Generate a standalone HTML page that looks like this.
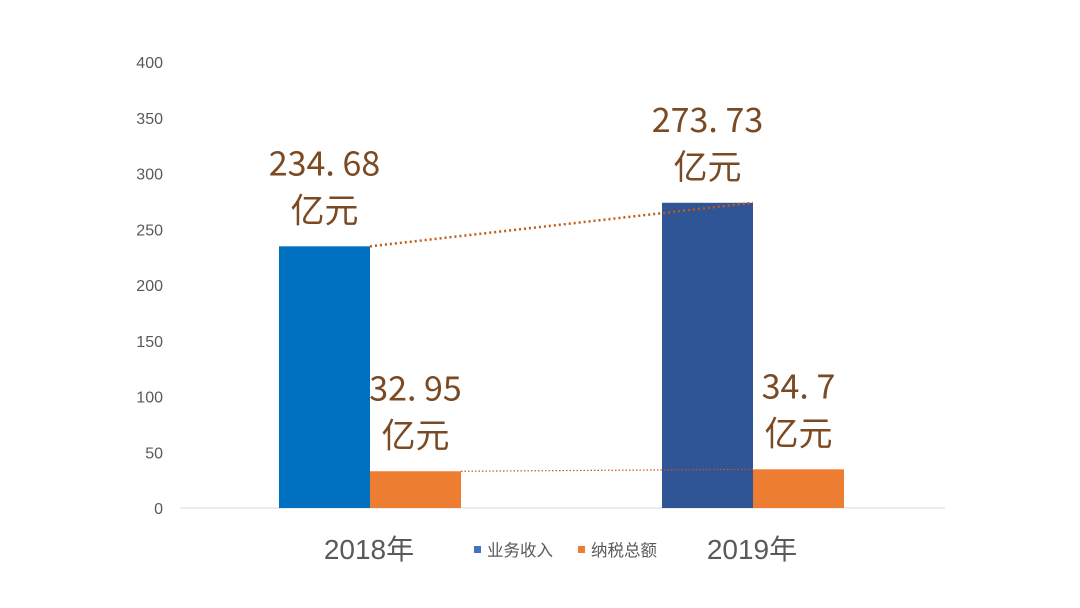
<!DOCTYPE html>
<html><head><meta charset="utf-8"><style>
body{margin:0;background:#fff;}
svg{display:block;}
</style></head><body>
<svg id="c" width="1080" height="608" xmlns="http://www.w3.org/2000/svg"></svg>
<script>
const categories=["2018年","2019年"];
const revenue=[234.68,273.73];
const tax=[32.95,34.7];
const revenueLabels=["234. 68","273. 73"];
const taxLabels=["32. 95","34. 7"];
const ticks=[0,50,100,150,200,250,300,350,400];
const revColors=["#0070c0","#2f5597"];
const NS="http://www.w3.org/2000/svg";
const svg=document.getElementById('c');
const y0=508,y1=62,yMax=400;
const y=v=>y0-(v/yMax)*(y0-y1);
const catCenter=i=>370+i*383;
const bw=91;
function mk(t,a,p){const e=document.createElementNS(NS,t);for(const k in a)e.setAttribute(k,a[k]);(p||svg).appendChild(e);return e;}
ticks.forEach(t=>{
  const e=mk('text',{x:163,y:y(t)+6,'text-anchor':'end','font-size':16,fill:'#595959','font-family':'Liberation Sans, sans-serif'});
  
  
  e.textContent=t;
});
const ax=mk('line',{x1:180,x2:945,y1:y0,y2:y0,stroke:'#d9d9d9','stroke-width':1});


const lf='"Noto Sans CJK SC", sans-serif';
categories.forEach((c,i)=>{
  const cx=catCenter(i);
  const b=mk('rect',{x:cx-bw,y:y(revenue[i]),width:bw,height:y0-y(revenue[i]),fill:revColors[i]});
  
  
  const o=mk('rect',{x:cx,y:y(tax[i]),width:bw,height:y0-y(tax[i]),fill:'#ed7d31'});
  
  
  const l=mk('text',{x:cx-1,y:559,'text-anchor':'middle','font-size':28,fill:'#595959','font-family':'"Liberation Sans","Noto Sans CJK SC",sans-serif'});
  
  
  l.textContent=c;
  [[revenueLabels[i],cx-bw/2,y(revenue[i])],[taxLabels[i],cx+bw/2,y(tax[i])]].forEach(([txt,x,top],k)=>{
    const t1=mk('text',{x:x,y:top-71,'text-anchor':'middle','font-size':34,fill:'#7b4a22','font-family':lf});
    
    
    t1.textContent=txt;
    const t2=mk('text',{x:x,y:top-24,'text-anchor':'middle','font-size':34,fill:'#7b4a22','font-family':lf});
    
    
    t2.textContent='亿元';
  });
});
const l1=mk('line',{x1:catCenter(0),y1:y(revenue[0]),x2:catCenter(1),y2:y(revenue[1]),stroke:'#c55a11','stroke-width':2.5,'stroke-dasharray':'2 3'});


const l2=mk('line',{x1:catCenter(0)+bw,y1:y(tax[0]),x2:catCenter(1),y2:y(tax[1]),stroke:'#c55a11','stroke-width':1.2,'stroke-dasharray':'1.5 2'});


const lg=[["业务收入","#4472c4",474],["纳税总额","#ed7d31",578]];
lg.forEach(([n,col,x])=>{
  const r=mk('rect',{x:x,y:546,width:7,height:7,fill:col});
  
  
  const t=mk('text',{x:x+13,y:556,'font-size':16.5,fill:'#595959','font-family':lf});
  
  
  t.textContent=n;
});
</script>
</body></html>
